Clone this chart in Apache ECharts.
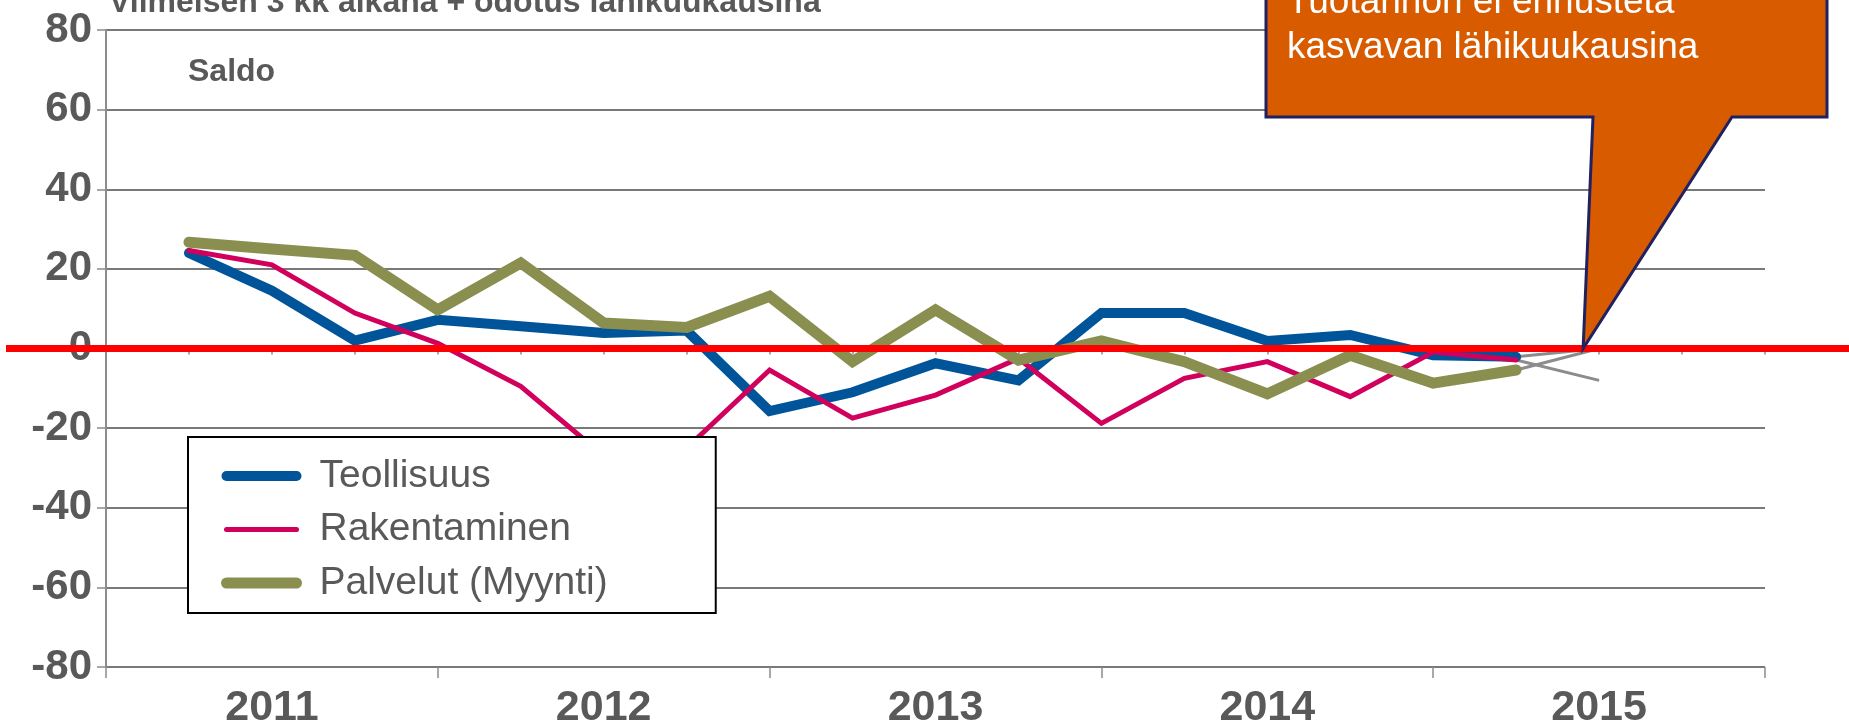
<!DOCTYPE html>
<html>
<head>
<meta charset="utf-8">
<script src="https://cdn.jsdelivr.net/npm/echarts@6/dist/echarts.min.js"></script>
<style>
html,body{margin:0;padding:0;background:#fff;}
#chart{width:1849px;height:724px;}
</style>
</head>
<body>
<div id="chart"></div>
<script>
// ---- data ----
const titleText = 'Viimeisen 3 kk aikana + odotus lähikuukausina';
const unitText = 'Saldo';
const calloutText = 'Tuotannon ei ennusteta\nkasvavan lähikuukausina';
const years = ['2011', '2012', '2013', '2014', '2015'];
const quarters = ['2010Q4',
  '2011Q1', '2011Q2', '2011Q3', '2011Q4',
  '2012Q1', '2012Q2', '2012Q3', '2012Q4',
  '2013Q1', '2013Q2', '2013Q3', '2013Q4',
  '2014Q1', '2014Q2', '2014Q3', '2014Q4',
  '2015Q1', '2015Q2', '2015Q3', '2015Q4'];
const seriesNames = ['Teollisuus', 'Rakentaminen', 'Palvelut (Myynti)'];
const teollisuus = [null, 24, 14.5, 2, 7.2, 5.6, 3.9, 4.5, -15.7, -11, -3.7, -8, 8.9, 8.9, 1.9, 3.4, -1.7, -2.1, null, null, null];
const rakentaminen = [null, 24.6, 21, 8.9, 1.3, -9.5, -27, -25, -5.4, -17.5, -11.7, -2.5, -18.8, -7.5, -3.3, -12.1, -0.9, -2.9, null, null, null];
const palvelut = [null, 26.7, 25, 23.4, 9.7, 21.5, 6.4, 5.3, 13.1, -3.3, 9.7, -2.9, 1.9, -3.3, -11.4, -1.7, -8.7, -5.4, null, null, null];
// expectation for the next quarter (2015Q2)
const odotusQuarter = '2015Q2';
const odotus = [0, -8, 0];
const yTicks = [-80, -60, -40, -20, 0, 20, 40, 60, 80];
const referenceLevel = 0;

// ---- styles ----
const FONT = '"Liberation Sans", Arial, sans-serif';
const TXT = '#595959';
const colors = ['#005499', '#D1005C', '#8A8F50'];
const widths = [10, 5, 11];
const values = [teollisuus, rakentaminen, palvelut];

function expectationData(arr, expVal) {
  const lastIdx = quarters.indexOf(odotusQuarter) - 1;
  return quarters.map((q, i) => (i === lastIdx ? arr[i] : (q === odotusQuarter ? expVal : null)));
}

const chart = echarts.init(document.getElementById('chart'), null, {renderer: 'canvas'});

const series = [];
// grey expectation segments (drawn first, under main lines)
values.forEach((arr, k) => {
  series.push({
    type: 'line', xAxisIndex: 0, yAxisIndex: 0,
    data: expectationData(arr, odotus[k]),
    showSymbol: false, symbol: 'none', silent: true,
    lineStyle: {color: '#8C8C8C', width: 3}, z: 2
  });
});
values.forEach((arr, k) => {
  series.push({
    name: seriesNames[k], type: 'line', xAxisIndex: 0, yAxisIndex: 0,
    data: arr, symbol: 'none', showSymbol: false,
    lineStyle: {color: colors[k], width: widths[k], cap: 'round', join: 'miter'},
    itemStyle: {color: colors[k]},
    z: 3 + k
  });
});
// red zero reference line spanning the full width
series.push({
  type: 'line', xAxisIndex: 2, yAxisIndex: 1,
  data: [[0, referenceLevel], [1, referenceLevel]],
  symbol: 'none', silent: true,
  lineStyle: {color: '#FF0000', width: 7}, z: 8
});

const legendLineWidths = [10, 5, 11];

const option = {
  animation: false,
  backgroundColor: '#fff',
  title: [
    {text: titleText, left: 109, top: -13, padding: 0,
     textStyle: {fontFamily: FONT, fontSize: 32, fontWeight: 'bold', color: TXT}},
    {text: unitText, left: 188, top: 56, padding: 0,
     textStyle: {fontFamily: FONT, fontSize: 32, fontWeight: 'bold', color: TXT}}
  ],
  grid: [
    {left: 106, right: 84, top: 30, bottom: 57, containLabel: false, outerBoundsMode: 'none'},
    {left: 6, right: 0, top: 30, bottom: 57, containLabel: false, outerBoundsMode: 'none'}
  ],
  xAxis: [
    {type: 'category', gridIndex: 0, data: quarters, boundaryGap: false,
     axisLine: {show: true, lineStyle: {color: '#8C8C8C', width: 2}},
     axisTick: {show: true, interval: 0, length: 6, lineStyle: {color: '#8C8C8C', width: 1.5}},
     axisLabel: {show: false}, splitLine: {show: false}},
    {type: 'category', gridIndex: 0, position: 'bottom', data: years, boundaryGap: true,
     axisLine: {show: false},
     axisTick: {show: true, length: 11, lineStyle: {color: '#8C8C8C', width: 1.5}},
     axisLabel: {show: true, margin: 20, fontFamily: FONT, fontSize: 43, fontWeight: 'bold', color: TXT},
     splitLine: {show: false}},
    {type: 'value', gridIndex: 1, min: 0, max: 1, show: false}
  ],
  yAxis: [
    {type: 'value', gridIndex: 0, min: yTicks[0], max: yTicks[yTicks.length - 1], interval: yTicks[1] - yTicks[0],
     axisLine: {show: true, lineStyle: {color: '#8C8C8C', width: 2}},
     axisTick: {show: true, length: 9, lineStyle: {color: '#8C8C8C', width: 1.5}},
     axisLabel: {margin: 14, fontFamily: FONT, fontSize: 42, fontWeight: 'bold', color: TXT},
     splitLine: {show: true, lineStyle: {color: '#4D4D4D', width: 1.5}}},
    {type: 'value', gridIndex: 1, min: yTicks[0], max: yTicks[yTicks.length - 1], show: false}
  ],
  legend: {
    data: seriesNames.map((n, k) => ({
      name: n,
      lineStyle: {width: legendLineWidths[k], color: colors[k], cap: 'round'},
      itemStyle: {opacity: 0}
    })),
    orient: 'vertical', left: 188, top: 437,
    padding: [17, 108, 8, 33], itemGap: 9.5, itemWidth: 70, itemHeight: 2,
    borderColor: '#000', borderWidth: 2, backgroundColor: '#fff',
    textStyle: {fontFamily: FONT, fontSize: 39, color: TXT, lineHeight: 44, padding: [0, 0, 0, 18]},
    selectedMode: false, z: 10
  },
  series: series
};
chart.setOption(option);

// callout annotation pointing at the expectation for industry
const tip = chart.convertToPixel({xAxisIndex: 0, yAxisIndex: 0}, [odotusQuarter, odotus[0]]);
const tipX = tip[0] - 16, tipY = tip[1];
chart.setOption({
  graphic: [
    {type: 'polygon', z: 100,
     shape: {points: [[1266, -10], [1827, -10], [1827, 117], [1732, 117], [tipX, tipY], [1593, 117], [1266, 117]]},
     style: {fill: '#D95B00', stroke: '#1F2160', lineWidth: 3, lineJoin: 'miter'}},
    {type: 'text', z: 101, left: 1287, top: -20,
     style: {text: calloutText, fill: '#fff', fontFamily: FONT, fontSize: 37, lineHeight: 45}}
  ]
});
</script>
</body>
</html>
